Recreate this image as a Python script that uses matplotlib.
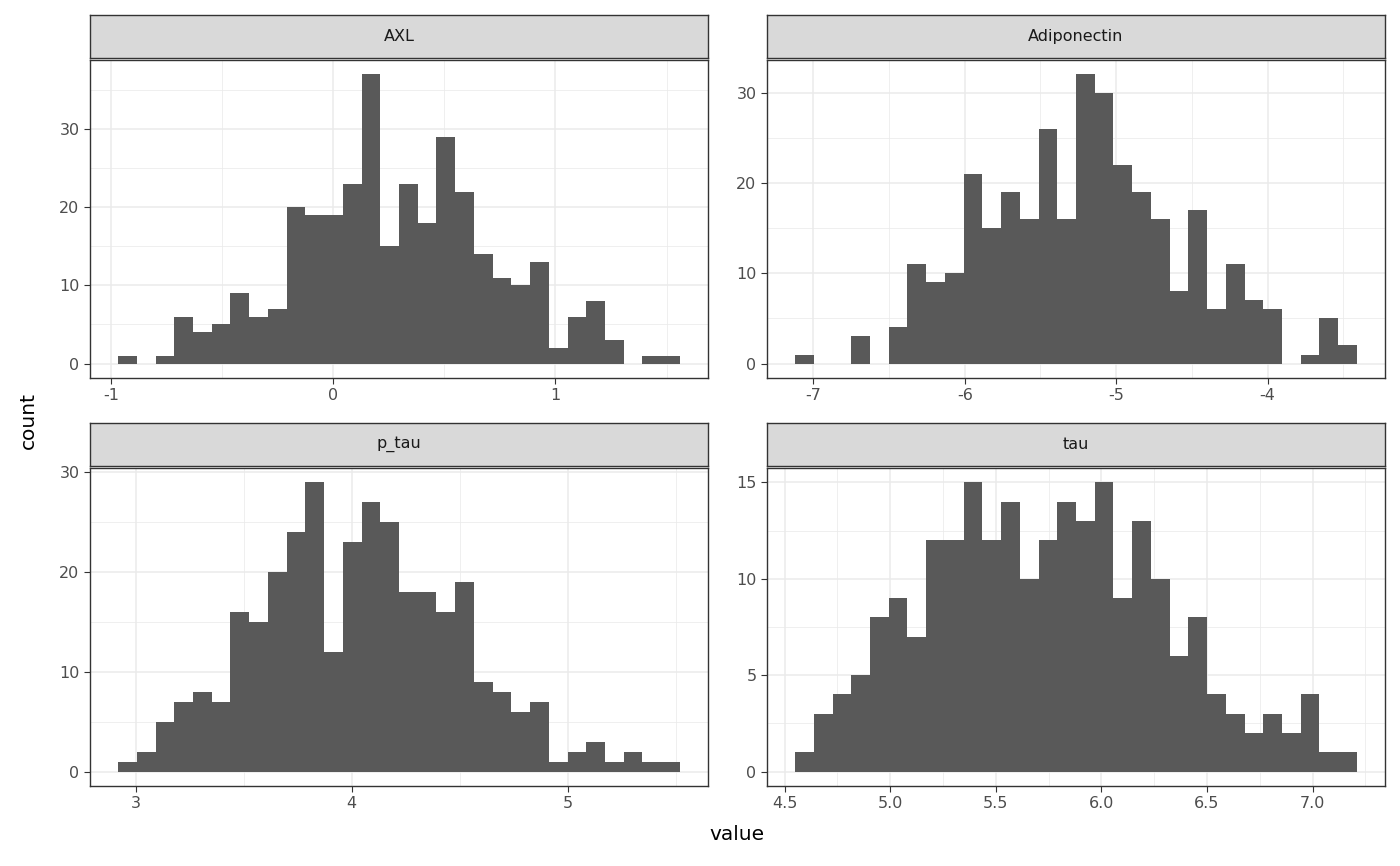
import numpy as np
import matplotlib
matplotlib.use('Agg')
from matplotlib import pyplot as plt

# Histogrammdaten (30 bins je Panel)
axl_counts = [1, 0, 1, 6, 4, 5, 9, 6, 7, 20, 19, 19, 23, 37, 15, 23, 18, 29, 22, 14, 11, 10, 13, 2, 6, 8, 3, 0, 1, 1]
axl_range = (-0.968, 1.56)
adipo_counts = [1, 0, 0, 3, 0, 4, 11, 9, 10, 21, 15, 19, 16, 26, 16, 32, 30, 22, 19, 16, 8, 17, 6, 11, 7, 6, 0, 1, 5, 2]
adipo_range = (-7.12, -3.41)
ptau_counts = [1, 2, 5, 7, 8, 7, 16, 15, 20, 24, 29, 12, 23, 27, 25, 18, 18, 16, 19, 9, 8, 6, 7, 1, 2, 3, 1, 2, 1, 1]
ptau_range = (2.918, 5.52)
tau_counts = [1, 3, 4, 5, 8, 9, 7, 12, 12, 15, 12, 14, 10, 12, 14, 13, 15, 9, 13, 10, 6, 8, 4, 3, 2, 3, 2, 4, 1, 1]
tau_range = (4.55, 7.21)

panels = [
    ('AXL', axl_counts, axl_range, [-1, 0, 1], ['-1', '0', '1'], [0, 10, 20, 30]),
    ('Adiponectin', adipo_counts, adipo_range, [-7, -6, -5, -4], ['-7', '-6', '-5', '-4'], [0, 10, 20, 30]),
    ('p_tau', ptau_counts, ptau_range, [3, 4, 5], ['3', '4', '5'], [0, 10, 20, 30]),
    ('tau', tau_counts, tau_range, [4.5, 5.0, 5.5, 6.0, 6.5, 7.0], ['4.5', '5.0', '5.5', '6.0', '6.5', '7.0'], [0, 5, 10, 15]),
]

W, H = 1400, 866
fig = plt.figure(figsize=(14, 8.66), dpi=100)
# Pixelpositionen (links, oben) der Panels
pos = [(90, 60), (767, 60), (90, 468), (767, 468)]
pw, ph, sh = 618, 318, 43

for (name, counts, rng, xt, xtl, yt), (px, py) in zip(panels, pos):
    ax = fig.add_axes([px / W, (H - py - ph) / H, pw / W, ph / H])
    edges = np.linspace(rng[0], rng[1], len(counts) + 1)
    ax.bar(edges[:-1], counts, width=np.diff(edges), align='edge', color='#595959', linewidth=0, zorder=3)
    ax.set_xticks(xt)
    ax.set_xticklabels(xtl)
    ax.set_yticks(yt)
    step_x = xt[1] - xt[0]
    step_y = yt[1] - yt[0]
    ax.set_xticks(np.arange(xt[0] - step_x / 2, xt[-1] + step_x, step_x), minor=True)
    ax.set_yticks(np.arange(yt[0] + step_y / 2, yt[-1] + step_y, step_y), minor=True)
    # Achsengrenzen nach den Ticks setzen (ggplot-Expansion 5%)
    span = rng[1] - rng[0]
    ax.set_xlim(rng[0] - 0.05 * span, rng[1] + 0.05 * span)
    top = max(counts)
    ax.set_ylim(-0.05 * top, top * 1.05)
    ax.grid(which='major', color='#ebebeb', linewidth=1.1, zorder=0)
    ax.grid(which='minor', color='#ebebeb', linewidth=0.55, zorder=0)
    ax.set_axisbelow(True)
    ax.tick_params(which='minor', length=0)
    ax.tick_params(which='major', length=4, color='#333333', labelcolor='#4d4d4d', labelsize=11.5)
    for s in ax.spines.values():
        s.set_color('#333333')
        s.set_linewidth(1)
    # Streifen oben
    sax = fig.add_axes([px / W, (H - py + 2) / H, pw / W, sh / H])
    sax.set_facecolor('#d9d9d9')
    sax.set_xticks([])
    sax.set_yticks([])
    for s in sax.spines.values():
        s.set_color('#333333')
        s.set_linewidth(1)
    sax.text(0.5, 0.5, name, ha='center', va='center', fontsize=11.5, color='#1a1a1a', transform=sax.transAxes)

fig.text(737 / W, 1 - 835 / H, 'value', ha='center', va='center', fontsize=14.5)
fig.text(28 / W, 1 - 420 / H, 'count', ha='center', va='center', fontsize=14.5, rotation=90)

fig.savefig('out.png', dpi=100)
